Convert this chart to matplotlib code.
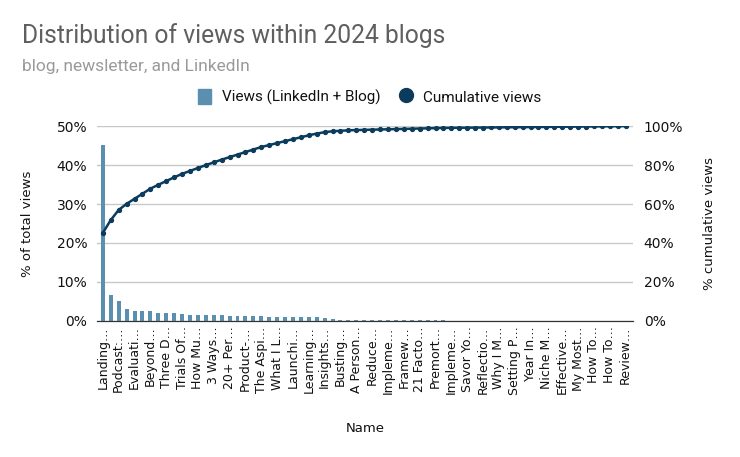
import numpy as np
import matplotlib.pyplot as plt
from matplotlib.lines import Line2D
from matplotlib.patches import Patch

plt.rcParams['font.family'] = 'DejaVu Sans'

# share of total views per blog post (%), sorted descending
views_pct = [45.2, 6.6, 5.2, 3.1, 2.6, 2.6, 2.6, 2.0, 1.9, 1.9,
             1.8, 1.5, 1.5, 1.5, 1.4, 1.4, 1.3, 1.3, 1.3, 1.3,
             1.3, 1.0, 1.0, 1.0, 1.0, 1.0, 1.0, 0.9, 0.7, 0.5,
             0.2, 0.3, 0.1, 0.1,
             0.1, 0.1, 0.1, 0.1, 0.1, 0.1, 0.1, 0.1, 0.1, 0.1,
             0.04, 0.04, 0.04, 0.04, 0.04, 0.04, 0.04, 0.04, 0.04, 0.04,
             0.04, 0.04, 0.04, 0.04, 0.04, 0.04, 0.04, 0.04, 0.04, 0.04,
             0.04, 0.04, 0.04]

# only every other post name is shown on the axis
tick_labels = ['Landing…', 'Podcast:…', 'Evaluati…', 'Beyond…', 'Three D…',
               'Trials Of…', 'How Mu…', '3 Ways…', '20+ Per…', 'Product-…',
               'The Aspi…', 'What I L…', 'Launchi…', 'Learning…', 'Insights…',
               'Busting…', 'A Person…', 'Reduce…', 'Impleme…', 'Framew…',
               '21 Facto…', 'Premort…', 'Impleme…', 'Savor Yo…', 'Reflectio…',
               'Why I M…', 'Setting P…', 'Year In…', 'Niche M…', 'Effective…',
               'My Most…', 'How To…', 'How To…', 'Review…']

bar_color = '#5b8fb0'
line_color = '#0b3c5d'
text_color = '#111111'

views = np.array(views_pct)
cumulative = np.cumsum(views) / views.sum() * 100
x = np.arange(len(views))

fig = plt.figure(figsize=(7.4, 4.57), dpi=100)
ax = fig.add_axes([0.131, 0.298, 0.724, 0.426])
ax2 = ax.twinx()

ax.bar(x, views, width=0.5, color=bar_color, zorder=3)
ax2.plot(x, cumulative, color=line_color, lw=1.8, marker='o', markersize=2.8, zorder=4)

ax.set_xlim(-0.75, len(views) - 0.1)
ax.set_ylim(0, 50)
ax2.set_ylim(0, 100)
ax.set_yticks(np.arange(0, 51, 10))
ax2.set_yticks(np.arange(0, 101, 20))
ax.set_yticklabels([f'{v}%' for v in range(0, 51, 10)])
ax2.set_yticklabels([f'{v}%' for v in range(0, 101, 20)])

ax.set_xticks(x[::2])
ax.set_xticklabels(tick_labels, rotation=90, fontsize=9, color=text_color)

ax.grid(axis='y', color='#c8c8c8', lw=1)
ax.set_axisbelow(True)
for a in (ax, ax2):
    for s in ['top', 'left', 'right']:
        a.spines[s].set_visible(False)
    a.spines['bottom'].set_color('#333333')
    a.tick_params(length=0, labelsize=10, labelcolor=text_color)
ax.tick_params(axis='y', pad=7)
ax2.tick_params(axis='y', pad=8)
ax.tick_params(axis='x', pad=4, labelsize=9)

ax.set_ylabel('% of total views', fontsize=9.5, color=text_color, labelpad=16)
ax2.set_ylabel('% cumulative views', fontsize=9.5, color=text_color, labelpad=14.5)
ax.set_xlabel('Name', fontsize=9.5, color=text_color, labelpad=19)

head_font = ['Roboto', 'DejaVu Sans']
fig.text(0.030, 0.906, 'Distribution of views within 2024 blogs', fontsize=17.7,
         color='#5f5f5f', family=head_font, va='baseline')
fig.text(0.030, 0.845, 'blog, newsletter, and LinkedIn', fontsize=12.5,
         color='#9a9a9a', family=head_font, va='baseline')

handles = [Patch(color=bar_color),
           Line2D([], [], color=line_color, marker='o', lw=0, markersize=10)]
fig.legend(handles, ['Views (LinkedIn + Blog)', 'Cumulative views'],
           loc='center', bbox_to_anchor=(0.5, 0.788), ncol=2, frameon=False,
           prop={'family': head_font, 'size': 11}, labelcolor=text_color,
           handlelength=0.8, handleheight=1.2, columnspacing=1.3,
           handletextpad=0.72)

fig.savefig('out.png', dpi=100)
